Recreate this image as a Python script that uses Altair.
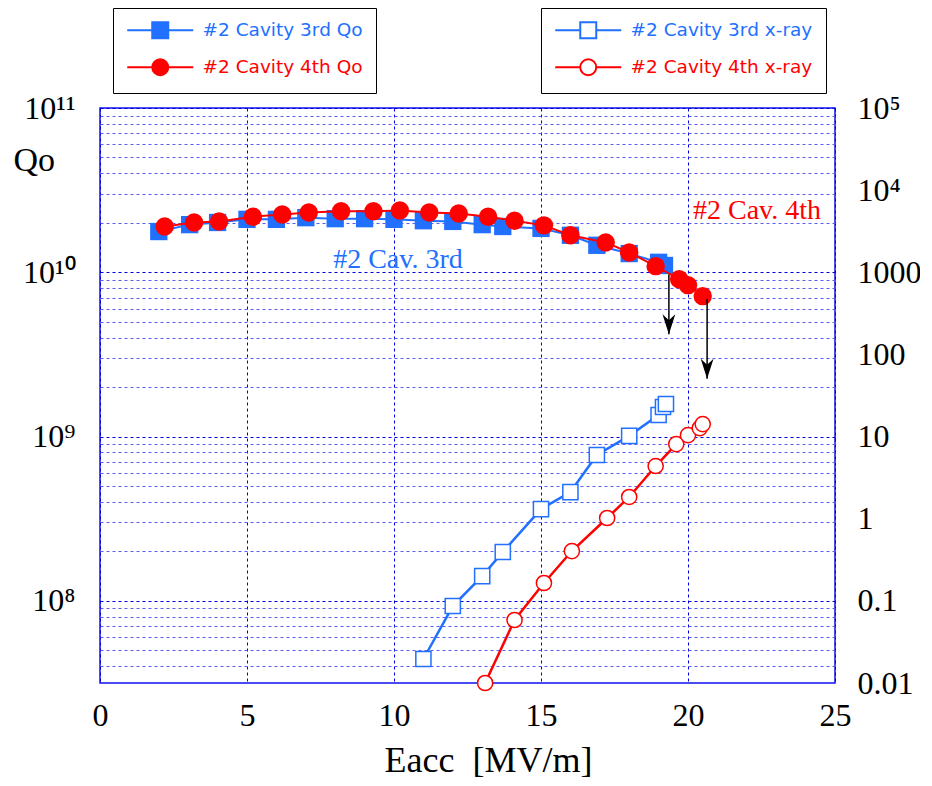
import altair as alt
import pandas as pd

BLUE = "#2170ff"
RED = "#ff0000"
GRID_MAJ = "#0000dd"
GRID_MIN = "#5c5cf0"
SERIF = "Liberation Serif"

# ---- data ----
eacc_3rd_qo = [2.0, 3.05, 4.0, 5.0, 6.0, 7.0, 8.0, 9.0, 10.0, 11.0, 12.0, 13.0, 13.7, 15.0, 16.0, 16.9, 18.0, 19.0, 19.2]
qo_3rd = [1.77e10, 1.95e10, 2.01e10, 2.10e10, 2.10e10, 2.15e10, 2.12e10, 2.12e10, 2.10e10, 2.06e10,
          2.04e10, 1.95e10, 1.90e10, 1.85e10, 1.68e10, 1.46e10, 1.30e10, 1.15e10, 1.10e10]

eacc_4th_qo = [2.2, 3.2, 4.05, 5.2, 6.2, 7.1, 8.2, 9.3, 10.2, 11.2, 12.2, 13.2, 14.1, 15.1, 16.0, 17.2, 18.0, 18.9, 19.7, 20.0, 20.5]
qo_4th = [1.90e10, 2.01e10, 2.04e10, 2.18e10, 2.25e10, 2.31e10, 2.35e10, 2.35e10, 2.38e10, 2.31e10, 2.28e10,
          2.18e10, 2.06e10, 1.93e10, 1.68e10, 1.52e10, 1.32e10, 1.09e10, 9.07e9, 8.35e9, 7.16e9]

eacc_3rd_xr = [11.0, 12.0, 13.0, 13.7, 15.0, 16.0, 16.9, 18.0, 19.0, 19.15, 19.25]
xray_3rd = [0.0196, 0.0865, 0.200, 0.393, 1.31, 2.11, 5.97, 10.2, 18.3, 22.9, 24.9]

eacc_4th_xr = [13.1, 14.1, 15.1, 16.05, 17.25, 18.0, 18.9, 19.6, 20.0, 20.4, 20.5]
xray_4th = [0.0100, 0.0585, 0.165, 0.404, 1.02, 1.84, 4.38, 8.1, 10.4, 12.7, 14.2]

series_qo = ["#2 Cavity 3rd Qo", "#2 Cavity 4th Qo"]
series_xr = ["#2 Cavity 3rd x-ray", "#2 Cavity 4th x-ray"]

arrow_x = [19.35, 20.65]
arrow_from = [9.7e9, 6.9e9]
arrow_to = [4.2e9, 2.25e9]

ann_text = ["#2 Cav. 3rd", "#2 Cav. 4th"]
ann_x = [7.93, 20.17]
ann_q = [1.06e10, 2.1e10]

x_ticks = [0, 5, 10, 15, 20, 25]
left_grid = [k * 10.0 ** e for e in range(7, 11) for k in range(1, 10) if 3.2e7 < k * 10.0 ** e <= 1e11] + [1e11]
right_ticks = [0.01, 0.1, 1, 10, 100, 1000, 1e4, 1e5]

# ---- tables ----
df3q = pd.DataFrame({"Eacc": eacc_3rd_qo, "Q": qo_3rd, "series": series_qo[0]})
df4q = pd.DataFrame({"Eacc": eacc_4th_qo, "Q": qo_4th, "series": series_qo[1]})
dfq = pd.concat([df3q, df4q])
df3x = pd.DataFrame({"Eacc": eacc_3rd_xr, "X": xray_3rd, "series": series_xr[0]})
df4x = pd.DataFrame({"Eacc": eacc_4th_xr, "X": xray_4th, "series": series_xr[1]})
dfx = pd.concat([df3x, df4x])
dfa = pd.DataFrame({"Eacc": arrow_x, "Q": arrow_from, "Q2": arrow_to})
dft3 = pd.DataFrame({"Eacc": ann_x[:1], "Q": ann_q[:1], "t": ann_text[:1]})
dft4 = pd.DataFrame({"Eacc": ann_x[1:], "Q": ann_q[1:], "t": ann_text[1:]})

# ---- scales / axes ----
x_enc = alt.X(
    "Eacc:Q",
    scale=alt.Scale(domain=[0, 25], nice=False, zero=False),
    axis=alt.Axis(
        values=x_ticks, title="Eacc\u00a0\u00a0[MV/m]", grid=True, gridColor=GRID_MAJ, gridDash=[3, 3],
        gridWidth=1, ticks=False, domain=False, labelFont=SERIF, labelFontSize=32, labelColor="black",
        labelPadding=17, labelFlush=False, labelOverlap=False, titleFont=SERIF, titleFontSize=36,
        titleFontWeight="normal", titleColor="black", titleX=388, titleY=88, titleBaseline="alphabetic",
    ),
)

is_decade = "abs(log(datum.value)/LN10 - round(log(datum.value)/LN10)) < 0.001"
left_scale = alt.Scale(type="log", domain=[10 ** 7.5, 1e11], nice=False)
left_axis = alt.Axis(
    values=left_grid,
    labelExpr=is_decade + " ? ['10\u2078','10\u2079','10\u00b9\u2070','10\u00b9\u00b9'][round(log(datum.value)/LN10)-8] : ''",
    title="Qo", titleAngle=0, titleX=-87, titleY=52, titleAlign="left", titleBaseline="middle",
    titleFont=SERIF, titleFontSize=34, titleFontWeight="normal", titleColor="black",
    grid=True, gridDash=[3, 3], gridWidth=1,
    gridColor={"condition": {"test": is_decade, "value": GRID_MAJ}, "value": GRID_MIN},
    ticks=False, domain=False, labelFont=SERIF, labelFontSize=32, labelColor="black",
    labelPadding=25, labelOverlap=False, labelFlush=False, labelBound=False,
)
y_left = alt.Y("Q:Q", scale=left_scale, axis=left_axis)

right_scale = alt.Scale(type="log", domain=[0.01, 1e5], nice=False)
right_axis = alt.Axis(
    orient="right", values=right_ticks, title=None, grid=False, ticks=False, domain=False,
    labelExpr="['0.01','0.1','1','10','100','1000','10\u2074','10\u2075'][round(log(datum.value)/LN10)+2]",
    labelFont=SERIF, labelFontSize=32, labelColor="black", labelPadding=22,
    labelOverlap=False, labelFlush=False, labelBound=False,
)
y_right = alt.Y("X:Q", scale=right_scale, axis=right_axis)

# legend symbols: line with marker (unit = 8 px, drawn to the right of the symbol slot)
sq_path = "M-1,0H2.125M4.125,0H7.25M2.125,-1H4.125V1H2.125Z"
ci_path = "M-1,0H2.125M4.125,0H7.25M4.125,0A1,1 0 1,1 2.125,0A1,1 0 1,1 4.125,0Z"


def legend(lx):
    return alt.Legend(
        orient="none", legendX=lx, legendY=-100, title=None, padding=13,
        strokeColor="black", fillColor="white", labelFont="DejaVu Sans", labelFontSize=18.5,
        labelOffset=58, labelLimit=400, symbolSize=256, symbolStrokeWidth=2, rowPadding=12,
        symbolOpacity=1,
        labelColor={"expr": "indexof(datum.label, '3rd') >= 0 ? '" + BLUE + "' : '" + RED + "'"},
    )


# ---- Qo layers (left axis) ----
line3q = alt.Chart(df3q).mark_line(color=BLUE, strokeWidth=2).encode(x=x_enc, y=y_left)
pt3q = alt.Chart(df3q).mark_point(shape="square", filled=True, size=300, color=BLUE, opacity=1).encode(x=x_enc, y=y_left)
line4q = alt.Chart(df4q).mark_line(color=RED, strokeWidth=2).encode(x=x_enc, y=y_left)
pt4q = alt.Chart(df4q).mark_point(shape="circle", filled=True, size=340, color=RED, opacity=1).encode(x=x_enc, y=y_left)

leg_q = legend(13)
proxy_q = alt.Chart(dfq).mark_point(filled=True, opacity=0).encode(
    x=x_enc, y=y_left,
    color=alt.Color("series:N", scale=alt.Scale(domain=series_qo, range=[BLUE, RED]), legend=leg_q),
    stroke=alt.Stroke("series:N", scale=alt.Scale(domain=series_qo, range=[BLUE, RED]), legend=leg_q),
    shape=alt.Shape("series:N", scale=alt.Scale(domain=series_qo, range=[sq_path, ci_path]), legend=leg_q),
)

arrow_rule = alt.Chart(dfa).mark_rule(color="black", strokeWidth=1.5).encode(
    x=x_enc, y=alt.Y("Q:Q", scale=left_scale, axis=left_axis), y2="Q2:Q")
arrow_head = alt.Chart(dfa).mark_point(
    shape="M0,0L-0.32,-1L0,-0.7L0.32,-1Z", filled=True, color="black", size=1600, opacity=1
).encode(x=x_enc, y=alt.Y("Q2:Q", scale=left_scale, axis=left_axis))

txt3 = alt.Chart(dft3).mark_text(font=SERIF, fontSize=28, color=BLUE, align="left", baseline="alphabetic").encode(
    x=x_enc, y=y_left, text="t:N")
txt4 = alt.Chart(dft4).mark_text(font=SERIF, fontSize=28, color=RED, align="left", baseline="alphabetic").encode(
    x=x_enc, y=y_left, text="t:N")

qo_layer = alt.layer(proxy_q, line3q, pt3q, line4q, pt4q, arrow_rule, arrow_head, txt3, txt4)

# ---- x-ray layers (right axis) ----
line3x = alt.Chart(df3x).mark_line(color=BLUE, strokeWidth=2.5).encode(x=x_enc, y=y_right)
pt3x = alt.Chart(df3x).mark_point(shape="square", filled=True, fill="white", stroke=BLUE, strokeWidth=1.5,
                                  size=230, opacity=1).encode(x=x_enc, y=y_right)
line4x = alt.Chart(df4x).mark_line(color=RED, strokeWidth=2.5).encode(x=x_enc, y=y_right)
pt4x = alt.Chart(df4x).mark_point(shape="circle", filled=True, fill="white", stroke=RED, strokeWidth=1.5,
                                  size=230, opacity=1).encode(x=x_enc, y=y_right)

leg_x = legend(441)
proxy_x = alt.Chart(dfx).mark_point(filled=False, opacity=0).encode(
    x=x_enc, y=y_right,
    color=alt.Color("series:N", scale=alt.Scale(domain=series_xr, range=[BLUE, RED]), legend=leg_x),
    shape=alt.Shape("series:N", scale=alt.Scale(domain=series_xr, range=[sq_path, ci_path]), legend=leg_x),
)

xr_layer = alt.layer(proxy_x, line3x, pt3x, line4x, pt4x)

chart = (
    alt.layer(qo_layer, xr_layer)
    .resolve_scale(y="independent", color="independent", shape="independent", stroke="independent")
    .properties(
        width=735, height=575,
        padding={"left": 92, "top": 100, "right": 85, "bottom": 95},
        autosize=alt.AutoSizeParams(type="none"),
        background="white",
    )
    .configure_view(stroke="#1010ee", strokeWidth=1.5)
)

chart.save("out.html", embed_options={"renderer": "svg", "actions": False})
